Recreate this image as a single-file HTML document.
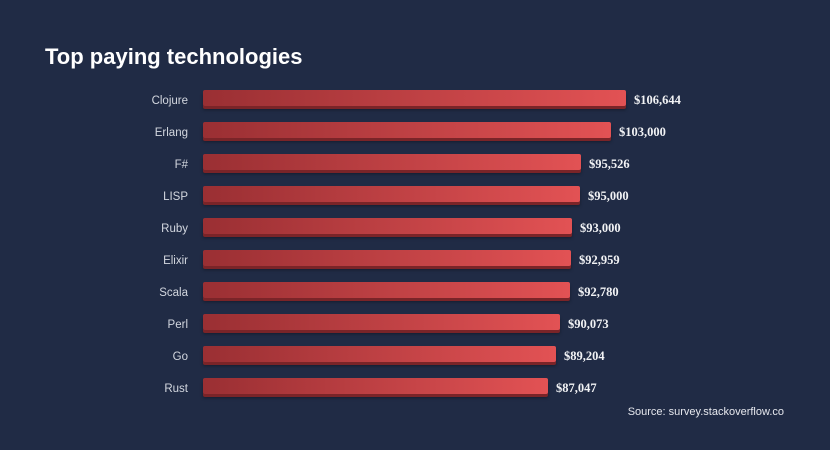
<!DOCTYPE html>
<html>
<head>
<meta charset="utf-8">
<style>
html,body{margin:0;padding:0;}
body{width:830px;height:450px;background:#202b45;position:relative;overflow:hidden;font-family:"Liberation Sans",sans-serif;}
.title{position:absolute;left:45px;top:43px;font-size:22px;font-weight:bold;color:#ffffff;line-height:28px;white-space:nowrap;}
.lbl{position:absolute;right:642px;width:120px;text-align:right;font-size:11.5px;color:#d3d7df;line-height:19px;height:19px;white-space:nowrap;margin-top:2px;}
.bar{position:absolute;left:203px;height:16px;border-radius:2px;background:linear-gradient(to right,#9a2f33,#e25254);box-shadow:0 3px 0 #7a2428,0 4px 3px rgba(0,0,0,0.35);}
.val{position:absolute;font-family:"Liberation Serif",serif;font-weight:bold;font-size:12.5px;color:#f2f3f5;line-height:19px;height:19px;white-space:nowrap;margin-top:1px;}
.src{position:absolute;right:46px;top:404px;font-size:11px;color:#e6e8ee;line-height:16px;white-space:nowrap;}
</style>
</head>
<body>
<div class="title">Top paying technologies</div>

<div class="lbl" style="top:90px">Clojure</div>
<div class="bar" style="top:90px;width:423px"></div>
<div class="val" style="top:90px;left:634px">$106,644</div>

<div class="lbl" style="top:122px">Erlang</div>
<div class="bar" style="top:122px;width:408px"></div>
<div class="val" style="top:122px;left:619px">$103,000</div>

<div class="lbl" style="top:154px">F#</div>
<div class="bar" style="top:154px;width:378px"></div>
<div class="val" style="top:154px;left:589px">$95,526</div>

<div class="lbl" style="top:186px">LISP</div>
<div class="bar" style="top:186px;width:377px"></div>
<div class="val" style="top:186px;left:588px">$95,000</div>

<div class="lbl" style="top:218px">Ruby</div>
<div class="bar" style="top:218px;width:369px"></div>
<div class="val" style="top:218px;left:580px">$93,000</div>

<div class="lbl" style="top:250px">Elixir</div>
<div class="bar" style="top:250px;width:368px"></div>
<div class="val" style="top:250px;left:579px">$92,959</div>

<div class="lbl" style="top:282px">Scala</div>
<div class="bar" style="top:282px;width:367px"></div>
<div class="val" style="top:282px;left:578px">$92,780</div>

<div class="lbl" style="top:314px">Perl</div>
<div class="bar" style="top:314px;width:357px"></div>
<div class="val" style="top:314px;left:568px">$90,073</div>

<div class="lbl" style="top:346px">Go</div>
<div class="bar" style="top:346px;width:353px"></div>
<div class="val" style="top:346px;left:564px">$89,204</div>

<div class="lbl" style="top:378px">Rust</div>
<div class="bar" style="top:378px;width:345px"></div>
<div class="val" style="top:378px;left:556px">$87,047</div>

<div class="src">Source: survey.stackoverflow.co</div>
</body>
</html>
